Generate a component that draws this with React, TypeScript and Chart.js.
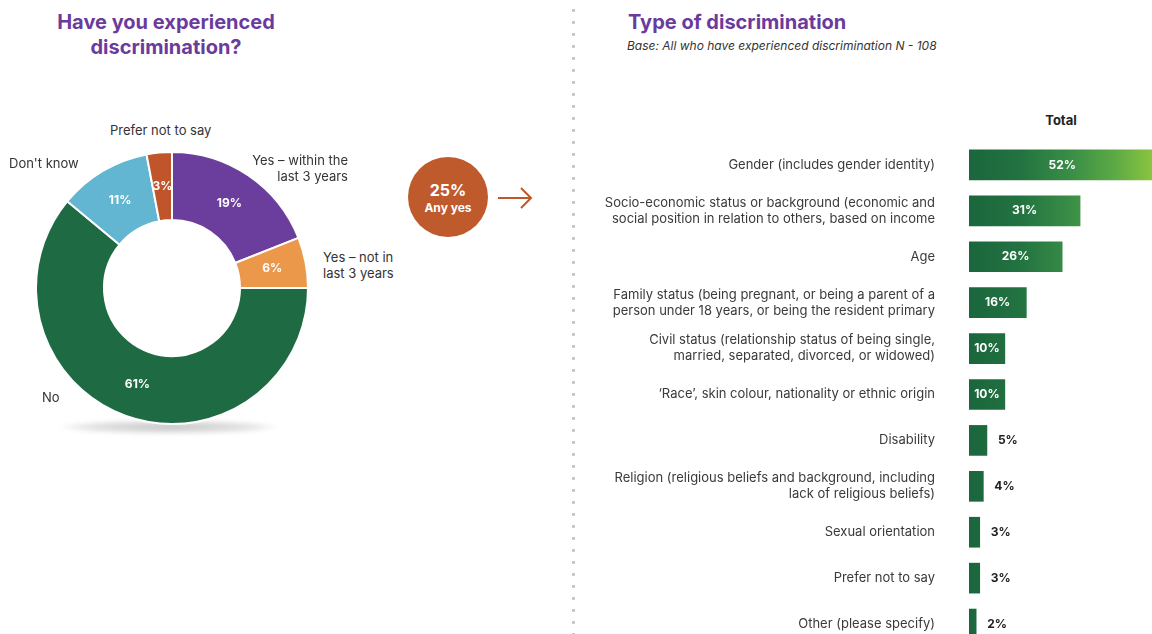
import React, { useEffect, useRef } from 'react';
import { Chart, registerables } from 'chart.js';

Chart.register(...registerables);

const FONT = 'Inter, "Noto Sans", sans-serif';

// Doughnut: "Have you experienced discrimination?"
const donutLabels = ['Yes – within the last 3 years', 'Yes – not in last 3 years', 'No', "Don't know", 'Prefer not to say'];
const donutValues = [19, 6, 61, 11, 3];
const donutColors = ['#6b3d9c', '#ec984a', '#1e6b43', '#62b6d2', '#c0552b'];

// Bar: "Type of discrimination"
const typeCategories: string[][] = [
  ['Gender (includes gender identity)'],
  ['Socio-economic status or background (economic and', 'social position in relation to others, based on income'],
  ['Age'],
  ['Family status (being pregnant, or being a parent of a', 'person under 18 years, or being the resident primary'],
  ['Civil status (relationship status of being single,', 'married, separated, divorced, or widowed)'],
  ['‘Race’, skin colour, nationality or ethnic origin'],
  ['Disability'],
  ['Religion (religious beliefs and background, including', 'lack of religious beliefs)'],
  ['Sexual orientation'],
  ['Prefer not to say'],
  ['Other (please specify)'],
];
const typeValues = [52, 31, 26, 16, 10, 10, 5, 4, 3, 3, 2];
const xTicks = [0, 60];

const anyYes = donutValues[0] + donutValues[1];

const donutLabelPlugin = {
  id: 'donutLabels',
  afterDatasetsDraw(chart: any) {
    const ctx = chart.ctx;
    const meta = chart.getDatasetMeta(0);
    ctx.save();
    ctx.font = `bold 12px ${FONT}`;
    ctx.fillStyle = '#ffffff';
    ctx.textAlign = 'center';
    ctx.textBaseline = 'middle';
    meta.data.forEach((arc: any, i: number) => {
      const p = arc.tooltipPosition();
      ctx.fillText(donutValues[i] + '%', p.x, p.y);
    });
    ctx.restore();
  },
};

const barLabelPlugin = {
  id: 'barLabels',
  afterDatasetsDraw(chart: any) {
    const ctx = chart.ctx;
    const meta = chart.getDatasetMeta(0);
    ctx.save();
    ctx.font = `bold 12px ${FONT}`;
    ctx.textBaseline = 'middle';
    meta.data.forEach((bar: any, i: number) => {
      const v = typeValues[i];
      if (v >= 10) {
        ctx.fillStyle = '#ffffff';
        ctx.textAlign = 'center';
        ctx.fillText(v + '%', (bar.base + bar.x) / 2, bar.y);
      } else {
        ctx.fillStyle = '#222222';
        ctx.textAlign = 'left';
        ctx.fillText(v + '%', bar.x + 11, bar.y);
      }
    });
    ctx.restore();
  },
};

function Donut() {
  const ref = useRef<HTMLCanvasElement>(null);
  useEffect(() => {
    const chart = new Chart(ref.current!, {
      type: 'doughnut',
      data: {
        labels: donutLabels,
        datasets: [{
          data: donutValues,
          backgroundColor: donutColors,
          borderColor: '#ffffff',
          borderWidth: 2,
        }],
      },
      options: {
        animation: false,
        responsive: true,
        maintainAspectRatio: false,
        cutout: '50%',
        layout: { padding: 0 },
        plugins: { legend: { display: false }, tooltip: { enabled: false } },
      },
      plugins: [donutLabelPlugin],
    });
    return () => chart.destroy();
  }, []);
  return (
    <div style={{ position: 'absolute', left: 35, top: 151, width: 274, height: 274 }}>
      <canvas ref={ref} />
    </div>
  );
}

function Bars() {
  const ref = useRef<HTMLCanvasElement>(null);
  useEffect(() => {
    const maxV = Math.max(...typeValues);
    const chart = new Chart(ref.current!, {
      type: 'bar',
      data: {
        labels: typeCategories,
        datasets: [{
          data: typeValues,
          barThickness: 30,
          borderWidth: 0,
          backgroundColor: (c: any) => {
            const ch = c.chart;
            if (!ch.chartArea || !ch.scales.x) return '#1e6b43';
            const xs = ch.scales.x;
            const x0 = xs.getPixelForValue(0);
            const x1 = xs.getPixelForValue(maxV);
            const g = ch.ctx.createLinearGradient(x0, 0, x1, 0);
            g.addColorStop(0, '#1b663d');
            g.addColorStop(0.28, '#237341');
            g.addColorStop(0.55, '#3a8e46');
            g.addColorStop(0.78, '#5ca945');
            g.addColorStop(1, '#8ec63f');
            return g;
          },
        }],
      },
      options: {
        indexAxis: 'y',
        animation: false,
        responsive: true,
        maintainAspectRatio: false,
        layout: { padding: 0 },
        plugins: { legend: { display: false }, tooltip: { enabled: false } },
        scales: {
          x: {
            display: false,
            min: xTicks[0],
            max: xTicks[1],
          },
          y: {
            afterFit: (s: any) => { s.width = 389; s.paddingTop = 0; s.paddingBottom = 0; },
            grid: { display: false, drawTicks: false },
            border: { display: false },
            ticks: {
              padding: 34,
              color: '#3a3a3a',
              font: { family: FONT, size: 13, lineHeight: '16px' },
            },
          },
        },
      },
      plugins: [barLabelPlugin],
    });
    return () => chart.destroy();
  }, []);
  return (
    <div style={{ position: 'absolute', left: 580, top: 142, width: 604, height: 505 }}>
      <canvas ref={ref} />
    </div>
  );
}

const txt: React.CSSProperties = {
  position: 'absolute',
  fontFamily: FONT,
  fontSize: 13,
  lineHeight: '16px',
  color: '#333333',
  whiteSpace: 'nowrap',
};

export default function App() {
  return (
    <div style={{ position: 'absolute', left: 0, top: 0, width: 1152, height: 634, overflow: 'hidden', background: '#ffffff', fontFamily: FONT }}>
      <div style={{ position: 'absolute', left: 16, top: 10, width: 300, textAlign: 'center', color: '#6a3b9c', fontWeight: 700, fontSize: 20, lineHeight: '25px' }}>
        Have you experienced<br />discrimination?
      </div>

      <div style={{ position: 'absolute', left: 62, top: 420, width: 214, height: 14, borderRadius: '50%', background: 'radial-gradient(ellipse at center, rgba(150,150,150,0.55) 0%, rgba(180,180,180,0.35) 55%, rgba(255,255,255,0) 75%)', filter: 'blur(2px)' }} />
      <Donut />

      <div style={{ ...txt, left: 110, top: 122 }}>Prefer not to say</div>
      <div style={{ ...txt, left: 9, top: 155 }}>Don't know</div>
      <div style={{ ...txt, left: 200, top: 152, width: 148, textAlign: 'right' }}>Yes – within the<br />last 3 years</div>
      <div style={{ ...txt, left: 323, top: 249 }}>Yes – not in<br />last 3 years</div>
      <div style={{ ...txt, left: 42, top: 389 }}>No</div>

      <div style={{ position: 'absolute', left: 408, top: 157, width: 80, height: 80, borderRadius: '50%', background: '#bf5a2d', color: '#ffffff', textAlign: 'center', fontWeight: 700 }}>
        <div style={{ position: 'absolute', left: 0, right: 0, top: 24, fontSize: 16, lineHeight: '18px' }}>{anyYes}%</div>
        <div style={{ position: 'absolute', left: 0, right: 0, top: 44, fontSize: 12, lineHeight: '14px' }}>Any yes</div>
      </div>
      <svg style={{ position: 'absolute', left: 494, top: 184 }} width={42} height={28}>
        <line x1={4} y1={14} x2={36} y2={14} stroke="#c0572b" strokeWidth={2} />
        <polyline points="27,4 37,14 27,24" fill="none" stroke="#c0572b" strokeWidth={2} />
      </svg>

      <div style={{ position: 'absolute', left: 572, top: 9, width: 3, height: 625, backgroundImage: 'linear-gradient(#c9c9cd 3px, transparent 3px)', backgroundSize: '3px 12px' }} />

      <div style={{ position: 'absolute', left: 628, top: 10, color: '#6a3b9c', fontWeight: 700, fontSize: 20, lineHeight: '25px', whiteSpace: 'nowrap' }}>
        Type of discrimination
      </div>
      <div style={{ position: 'absolute', left: 627, top: 38, color: '#333333', fontStyle: 'italic', fontSize: 12, lineHeight: '16px', whiteSpace: 'nowrap' }}>
        Base: All who have experienced discrimination N - 108
      </div>
      <div style={{ position: 'absolute', left: 1020, top: 112, width: 82, textAlign: 'center', color: '#222222', fontWeight: 700, fontSize: 13, lineHeight: '16px' }}>
        Total
      </div>

      <Bars />
    </div>
  );
}
